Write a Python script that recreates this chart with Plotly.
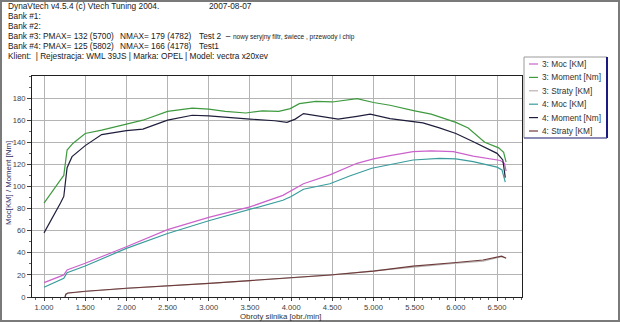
import plotly.graph_objects as go

# ---- measured curves: engine speed [obr./min] -> value ----
rpm_moment_3 = [1000, 1100, 1200, 1240, 1260, 1280, 1350, 1500, 1700, 2000, 2200, 2500, 2800, 3000,
                3200, 3450, 3650, 3850, 3990, 4100, 4300, 4500, 4800, 5000, 5200, 5500, 5700, 6000,
                6150, 6350, 6520, 6580, 6610]
moment_3 = [85, 96, 106, 110, 122, 133, 139, 148, 151, 156, 160, 168, 171, 170,
            168, 166.5, 168.5, 168, 170.5, 175, 177, 176.5, 179.5, 176, 173.5, 168.5, 165.5, 158,
            153, 140, 135, 131, 122]

rpm_moment_4 = [1000, 1100, 1200, 1240, 1260, 1280, 1340, 1500, 1700, 2000, 2200, 2500, 2800, 3000,
                3500, 3800, 3950, 4050, 4150, 4300, 4570, 4800, 4960, 5200, 5600, 5800, 6000, 6200,
                6500, 6570, 6600]
moment_4 = [58, 71, 85, 91, 104, 117, 127, 137, 147, 150.5, 152, 160, 164.5, 164,
            161, 159.5, 158, 161, 166, 164, 161, 163.5, 165.5, 161.5, 157.5, 153, 148, 141,
            130, 124, 108]

rpm_moc_3 = [1000, 1240, 1280, 1500, 2000, 2500, 3000, 3500, 3900, 4150, 4470, 4800, 5000, 5200,
             5480, 5700, 5970, 6210, 6540, 6590, 6610]
moc_3 = [13, 20, 24.5, 30.5, 45.5, 61, 72, 81.5, 92, 102.5, 110.5, 121, 125, 128,
         131.5, 132.3, 131.5, 127.5, 123.5, 121, 114]

rpm_moc_4 = [1000, 1240, 1280, 1500, 2000, 2500, 3000, 3500, 3900, 4000, 4150, 4470, 4710, 4980,
             5200, 5480, 5800, 6000, 6210, 6500, 6560, 6600]
moc_4 = [8.8, 17, 22, 28, 44, 57.5, 69, 79.5, 87.5, 91, 97.5, 102.5, 109.5, 116.5,
         120, 124, 125.5, 125, 122.5, 117.5, 115, 104]

rpm_straty = [1255, 1265, 1290, 1500, 2000, 2500, 3000, 3500, 4000, 4470, 5000, 5480, 5970,
              6330, 6555, 6610]
straty_3 = [0, 2.3, 3.4, 5.0, 7.8, 9.9, 12.2, 14.8, 17.3, 19.8, 23.6, 27.2, 30.5, 32.5, 36.5, 35.5]
straty_4 = [0, 2.5, 3.6, 5.2, 7.9, 9.8, 12.3, 14.9, 17.4, 19.9, 23.5, 28.0, 31.0, 33.5, 37.0, 35.0]

x_tick_vals = [1000, 1500, 2000, 2500, 3000, 3500, 4000, 4500, 5000, 5500, 6000, 6500]
x_tick_text = ["1.000", "1.500", "2.000", "2.500", "3.000", "3.500", "4.000", "4.500",
               "5.000", "5.500", "6.000", "6.500"]
y_tick_vals = [0, 20, 40, 60, 80, 100, 120, 140, 160, 180]

series_names = ["3: Moc [KM]", "3: Moment [Nm]", "3: Straty [KM]",
                "4: Moc [KM]", "4: Moment [Nm]", "4: Straty [KM]"]
series_colors = ["#cc62cc", "#3f9a3f", "#b9b2b2", "#3a9c9c", "#1e1e3c", "#6e3a3a"]

header_lines = [
    "DynaVtech v4.5.4 (c) Vtech Tuning 2004.",
    "Bank #1:",
    "Bank #2:",
    "Bank #3: PMAX= 132 (5700)",
    "Bank #4: PMAX= 125 (5802)",
    "Klient:  | Rejestracja: WML 39JS | Marka: OPEL | Model: vectra x20xev",
]

W, H = 620, 322
ML, MR, MT, MB = 32, 98, 76, 25
PW, PH = W - ML - MR, H - MT - MB
FONT = "Liberation Sans, Arial, sans-serif"
TXT = 8.3
TICK = 7.6


def px(x):
    return (x - ML) / PW


def py(y):
    return (H - MB - y) / PH


fig = go.Figure()
series = [(rpm_moc_3, moc_3), (rpm_moment_3, moment_3), (rpm_straty, straty_3),
          (rpm_moc_4, moc_4), (rpm_moment_4, moment_4), (rpm_straty, straty_4)]
for (xs, ys), name, col in zip(series, series_names, series_colors):
    fig.add_trace(go.Scatter(x=xs, y=ys, mode="lines", name=name,
                             line=dict(color=col, width=1.2), showlegend=False))

shapes = []
annotations = []


def label(text, x, y, size=TXT, color="#202020", xanchor="left", angle=0):
    annotations.append(dict(text=text, xref="paper", yref="paper", x=px(x), y=py(y),
                            xanchor=xanchor, yanchor="middle", showarrow=False, textangle=angle,
                            font=dict(family=FONT, size=size, color=color)))


# outer frame of the whole image
shapes.append(dict(type="rect", xref="paper", yref="paper",
                   x0=px(1), x1=px(W - 1), y0=py(H - 1), y1=py(1),
                   line=dict(color="#7a7a7a", width=2), layer="below"))

# header text
for i, t in enumerate(header_lines):
    label(t, 6, 6 + 10 * i)
label("2007-08-07", 207, 6)
label("NMAX= 179 (4782)", 118, 36)
label("Test 2  \u2013", 197, 36)
label("NMAX= 166 (4178)", 118, 46)
label("Test1", 197, 46)
label("nowy seryjny filtr, \u015bwiece , przewody i chip", 231, 37, size=6.5)

# axis titles
label("Obroty silnika [obr./min]", 280, 316, size=7.8, color="#303030", xanchor="center")
label("Moc[KM] / Moment [Nm]", 8, 183, size=7.8, color="#2a2a60", xanchor="center", angle=-90)

# legend box
LX0, LX1, LY0, LY1 = 524, 607, 57, 138
shapes.append(dict(type="rect", xref="paper", yref="paper", x0=px(LX0), x1=px(LX1),
                   y0=py(LY1), y1=py(LY0), line=dict(color="#9a9a9a", width=1),
                   fillcolor="white"))
shapes.append(dict(type="line", xref="paper", yref="paper", x0=px(LX1), x1=px(LX1),
                   y0=py(LY1), y1=py(LY0), line=dict(color="#1a1a80", width=2)))
shapes.append(dict(type="line", xref="paper", yref="paper", x0=px(LX0), x1=px(LX1),
                   y0=py(LY1), y1=py(LY1), line=dict(color="#4a4aa0", width=1)))
for i, (name, col) in enumerate(zip(series_names, series_colors)):
    yy = 64 + 13.4 * i
    shapes.append(dict(type="line", xref="paper", yref="paper", x0=px(529), x1=px(538),
                       y0=py(yy), y1=py(yy), line=dict(color=col, width=1.2)))
    label(name, 540, yy, color="#303030")

fig.update_layout(
    width=W, height=H,
    margin=dict(l=ML, r=MR, t=MT, b=MB, pad=0, autoexpand=False),
    paper_bgcolor="white", plot_bgcolor="white",
    font=dict(family=FONT, size=TXT, color="#404040"),
    shapes=shapes, annotations=annotations,
    showlegend=False,
)
fig.update_xaxes(
    range=[854, 6803], tickvals=x_tick_vals, ticktext=x_tick_text, automargin=False,
    tickfont=dict(size=TICK, color="#404040"),
    showgrid=True, gridcolor="#b4b4b4", gridwidth=1,
    showline=True, linecolor="#202020", linewidth=1, mirror=True,
    ticks="outside", ticklen=3, tickcolor="#404040",
    minor=dict(dtick=100, tick0=1000, ticks="outside", ticklen=2, tickcolor="#606060", showgrid=False),
    zeroline=False,
)
fig.update_yaxes(
    range=[0, 200], tickvals=y_tick_vals, automargin=False,
    tickfont=dict(size=TICK, color="#404040"),
    showgrid=True, gridcolor="#b4b4b4", gridwidth=1,
    showline=True, linecolor="#202020", linewidth=1, mirror=True,
    ticks="outside", ticklen=4, tickcolor="#404040",
    minor=dict(dtick=10, ticks="outside", ticklen=2, tickcolor="#606060", showgrid=False),
    zeroline=False,
)

fig.write_html("out.html")
